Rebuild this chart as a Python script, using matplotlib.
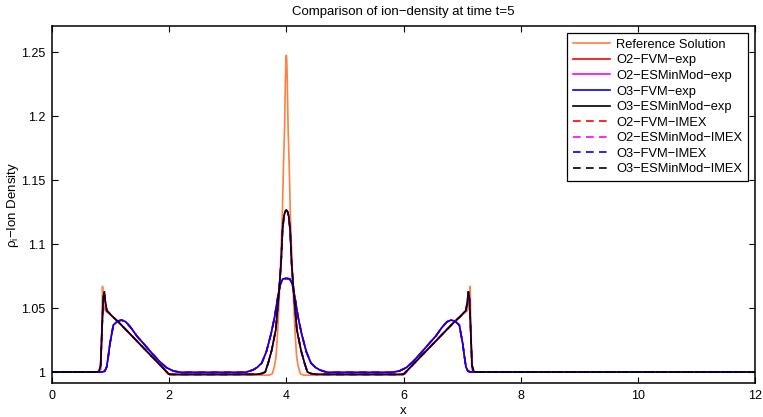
import matplotlib
matplotlib.use("Agg")
import matplotlib.pyplot as plt

plt.rcParams['font.family'] = ['Liberation Sans', 'DejaVu Sans']
plt.rcParams['mathtext.fontset'] = 'custom'
plt.rcParams['mathtext.rm'] = 'Liberation Sans'
plt.rcParams['mathtext.it'] = 'Liberation Sans'
plt.rcParams['mathtext.default'] = 'regular'

# ---- data ----
ref_x = [0, 0.80, 0.835, 0.85, 0.862, 0.875, 0.895, 0.93, 1.0, 1.13, 1.5, 1.9, 1.97, 2.05, 3.0,
         3.70, 3.76, 3.80, 3.824, 3.85, 3.88, 3.91, 3.932, 3.95, 3.969, 3.985, 3.993, 4.0,
         4.007, 4.015, 4.031, 4.05, 4.068, 4.09, 4.12, 4.15, 4.176, 4.20, 4.24, 4.30, 5.0,
         5.95, 6.03, 6.1, 6.5, 6.87, 7.0, 7.07, 7.105, 7.125, 7.138, 7.15, 7.165, 7.20, 8.0, 12.0]
ref_y = [1.0, 1.0, 1.002, 1.035, 1.067, 1.056, 1.049, 1.047, 1.0445, 1.0392, 1.0216, 1.0027, 0.9985, 0.9978, 0.9978,
         0.9975, 0.9985, 1.005, 1.012, 1.03, 1.0588, 1.095, 1.124, 1.16, 1.189, 1.23, 1.244, 1.2477,
         1.244, 1.23, 1.189, 1.16, 1.124, 1.095, 1.0588, 1.03, 1.012, 1.005, 0.9985, 0.9975, 0.9978,
         0.9978, 0.9985, 1.0027, 1.0216, 1.0392, 1.0445, 1.047, 1.049, 1.056, 1.067, 1.035, 1.002, 1.0, 1.0, 1.0]

sharp_x = [0, 0.75, 0.80, 0.83, 0.855, 0.875, 0.893, 0.91, 0.935, 0.97, 1.03, 1.13, 1.30, 1.50, 1.70, 1.90,
           2.00, 2.10, 3.00, 3.50, 3.58, 3.64, 3.69, 3.75, 3.82, 3.875, 3.91, 3.935, 3.96, 3.98, 4.00,
           4.02, 4.04, 4.065, 4.09, 4.125, 4.18, 4.25, 4.31, 4.36, 4.42, 4.50, 5.00, 5.90, 6.00, 6.10,
           6.30, 6.50, 6.70, 6.87, 6.97, 7.03, 7.065, 7.09, 7.107, 7.125, 7.145, 7.17, 7.20, 7.25, 8.0, 12.0]
sharp_y = [1.0, 1.0, 1.0003, 1.005, 1.035, 1.058, 1.0627, 1.055, 1.048, 1.0465, 1.0435, 1.0393, 1.0313, 1.0218, 1.0124, 1.0029,
           0.9982, 0.9981, 0.9981, 0.9982, 0.9988, 1.0, 1.007, 1.017, 1.033, 1.063, 1.085, 1.111, 1.122, 1.1255, 1.1266,
           1.1255, 1.122, 1.111, 1.085, 1.063, 1.033, 1.017, 1.007, 1.0, 0.9988, 0.9982, 0.9981, 0.9981, 0.9982, 1.0029,
           1.0124, 1.0218, 1.0313, 1.0393, 1.0435, 1.0465, 1.048, 1.055, 1.0627, 1.058, 1.035, 1.005, 1.0003, 1.0, 1.0, 1.0]

smooth_x = [0, 0.85, 0.90, 0.934, 0.96, 0.99, 1.047, 1.12, 1.19, 1.26, 1.35, 1.45, 1.56, 1.70, 1.84, 1.95,
            2.07, 2.20, 3.30, 3.43, 3.50, 3.58, 3.66, 3.74, 3.80, 3.86, 3.90, 3.94, 4.00,
            4.06, 4.10, 4.14, 4.20, 4.26, 4.34, 4.42, 4.50, 4.57, 4.70, 5.80, 5.93, 6.05, 6.16,
            6.30, 6.44, 6.55, 6.65, 6.74, 6.81, 6.88, 6.953, 7.01, 7.04, 7.066, 7.10, 7.15, 8.0, 12.0]
smooth_y = [1.0, 1.0, 1.0006, 1.004, 1.012, 1.0224, 1.0367, 1.0398, 1.0406, 1.0392, 1.0345, 1.028, 1.0224, 1.015, 1.008, 1.0035,
            1.0008, 0.9997, 0.9997, 1.0016, 1.0035, 1.007, 1.016, 1.030, 1.043, 1.060, 1.069, 1.0728, 1.0732,
            1.0728, 1.069, 1.060, 1.043, 1.030, 1.016, 1.007, 1.0035, 1.0016, 0.9997, 0.9997, 1.0008, 1.0035, 1.008,
            1.015, 1.0224, 1.028, 1.0345, 1.0392, 1.0406, 1.0398, 1.0367, 1.0224, 1.012, 1.004, 1.0006, 1.0, 1.0, 1.0]

labels = ["Reference Solution", "O2\u2212FVM\u2212exp", "O2\u2212ESMinMod\u2212exp", "O3\u2212FVM\u2212exp",
          "O3\u2212ESMinMod\u2212exp", "O2\u2212FVM\u2212IMEX", "O2\u2212ESMinMod\u2212IMEX",
          "O3\u2212FVM\u2212IMEX", "O3\u2212ESMinMod\u2212IMEX"]
x_ticks = [0, 2, 4, 6, 8, 10, 12]
y_ticks = [1.0, 1.05, 1.1, 1.15, 1.2, 1.25]
y_tick_labels = ["1", "1.05", "1.1", "1.15", "1.2", "1.25"]

fig = plt.figure(figsize=(7.63, 4.17), dpi=100)
ax = fig.add_axes([52/763, 34/417, 703/763, 357/417])

lw = 1.2
ax.plot(ref_x, ref_y, color='#ff8040', lw=lw, label=labels[0])
series = [(smooth_x, smooth_y, 'red'), (sharp_x, sharp_y, 'magenta'),
          (smooth_x, smooth_y, 'blue'), (sharp_x, sharp_y, 'black')]
for i, (xs, ys, c) in enumerate(series):
    ax.plot(xs, ys, color=c, lw=lw, label=labels[1 + i])
for i, (xs, ys, c) in enumerate(series):
    ax.plot(xs, ys, color=c, lw=lw, dashes=(4.6, 3.2), label=labels[5 + i])

ax.set_xlim(0, 12)
ax.set_ylim(0.9914, 1.2706)
ax.set_xticks(x_ticks)
ax.set_yticks(y_ticks)
ax.set_yticklabels(y_tick_labels)
ax.tick_params(direction='in', top=True, right=True, length=4, width=0.8, labelsize=9, pad=5)
for s in ax.spines.values():
    s.set_linewidth(1.1)

ax.set_title("Comparison of ion\u2212density at time t=5", fontsize=9.5, pad=8)
ax.set_xlabel("x", fontsize=9.5, labelpad=2)
ax.set_ylabel("\u03c1$_i$\u2212Ion Density", fontsize=9.5, va='center')
ax.yaxis.set_label_coords(-0.056, 0.5)

leg = ax.legend(loc='upper right', fontsize=9.3, frameon=True, fancybox=False, framealpha=1,
                edgecolor='black', handlelength=2.9, handletextpad=0.45, labelspacing=0.27,
                borderaxespad=0.55, borderpad=0.45)
leg.get_frame().set_linewidth(0.9)

fig.savefig("out.png", dpi=100)
